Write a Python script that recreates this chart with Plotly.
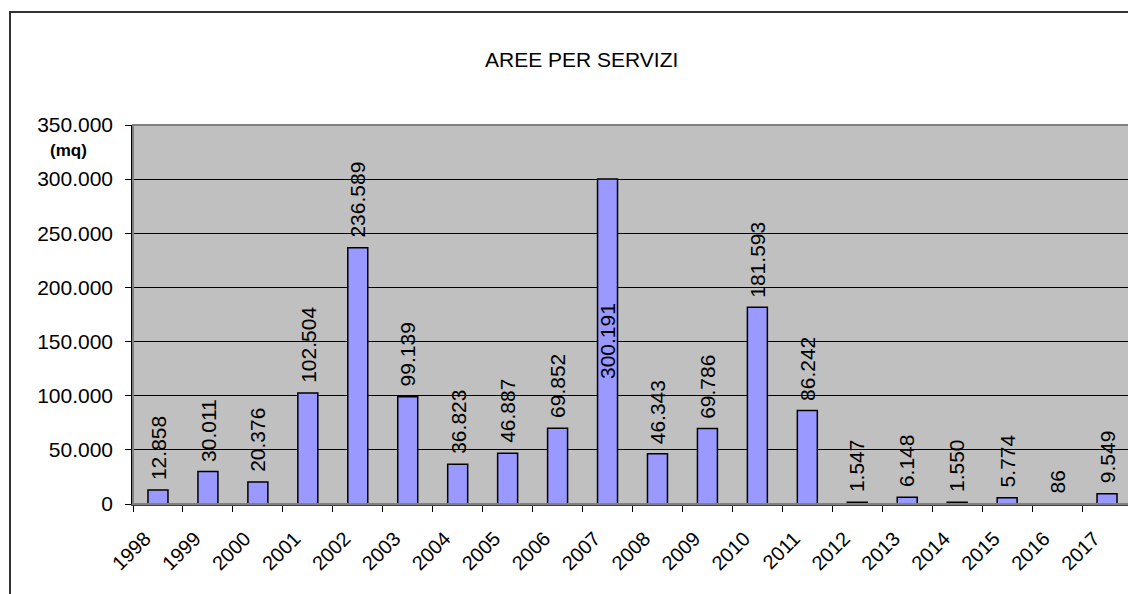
import plotly.graph_objects as go

years = [str(y) for y in range(1998, 2018)]
values = [12858, 30011, 20376, 102504, 236589, 99139, 36823, 46887, 69852, 300191,
          46343, 69786, 181593, 86242, 1547, 6148, 1550, 5774, 86, 9549]
y_ticks = [0, 50000, 100000, 150000, 200000, 250000, 300000, 350000]
Y_MAX = 350000

# The page body has an 8px margin; figure is sized to fill the rest.
OFF = 8
W, H = 1136 - OFF, 594 - OFF
L, R, T, B = 133 - OFF, 4, 125 - OFF, 90
pw, ph = W - L - R, H - T - B

def px_x(p):
    return (p - OFF - L) / pw

def px_y(p):
    return (H - B - (p - OFF)) / ph

FONT = "Liberation Sans, Arial, sans-serif"

def fmt(v):
    return f"{v:,}".replace(",", ".")

fig = go.Figure(go.Bar(
    x=years, y=values,
    marker=dict(color="#9999FF", line=dict(color="#000000", width=1.5)),
    width=0.4,
    hoverinfo="x+y",
))

annotations = [
    dict(text="AREE PER SERVIZI", xref="paper", yref="paper",
         x=px_x(581), y=px_y(60), showarrow=False,
         font=dict(size=21), xanchor="center", yanchor="middle"),
    dict(text="<b>(mq)</b>", xref="paper", yref="paper",
         x=px_x(68), y=px_y(150), showarrow=False,
         font=dict(size=17), xanchor="center", yanchor="middle"),
]
for i, v in enumerate(values):
    inside = v > 290000
    annotations.append(dict(
        x=i, y=v / 2 if inside else v, xref="x", yref="y",
        text=fmt(v), textangle=-90, showarrow=False,
        xanchor="center", yanchor="middle" if inside else "bottom",
        yshift=0 if inside else 8,
        font=dict(size=21, color="#000000"),
    ))

fig.update_layout(
    width=W, height=H,
    margin=dict(l=L, r=R, t=T, b=B),
    paper_bgcolor="#FFFFFF",
    plot_bgcolor="#C0C0C0",
    separators=",.",
    showlegend=False,
    font=dict(family=FONT, size=21, color="#000000"),
    xaxis=dict(
        type="category", tickangle=-45, tickson="boundaries",
        ticks="outside", ticklen=6, tickcolor="#000000",
        showline=True, linecolor="#404040", linewidth=2,
        showgrid=False, tickfont=dict(size=20),
        ticklabelstandoff=13, ticklabelshift=-13,
        range=[-0.5, 19.5],
    ),
    yaxis=dict(
        range=[0, Y_MAX], tickvals=y_ticks, tickformat=",d",
        ticks="outside", ticklen=6, tickcolor="#000000",
        showline=True, linecolor="#000000", linewidth=1.5,
        showgrid=True, gridcolor="#000000", gridwidth=1,
        zeroline=False, tickfont=dict(size=21),
        ticklabelstandoff=8,
    ),
    shapes=[
        dict(type="rect", xref="paper", yref="paper", x0=0, y0=0, x1=1, y1=1,
             line=dict(color="#808080", width=2), layer="above"),
        dict(type="rect", xref="paper", yref="paper",
             x0=px_x(10), y0=px_y(620), x1=px_x(1160), y1=px_y(12),
             line=dict(color="#333333", width=2)),
    ],
    annotations=annotations,
)

fig.write_html("out.html")
